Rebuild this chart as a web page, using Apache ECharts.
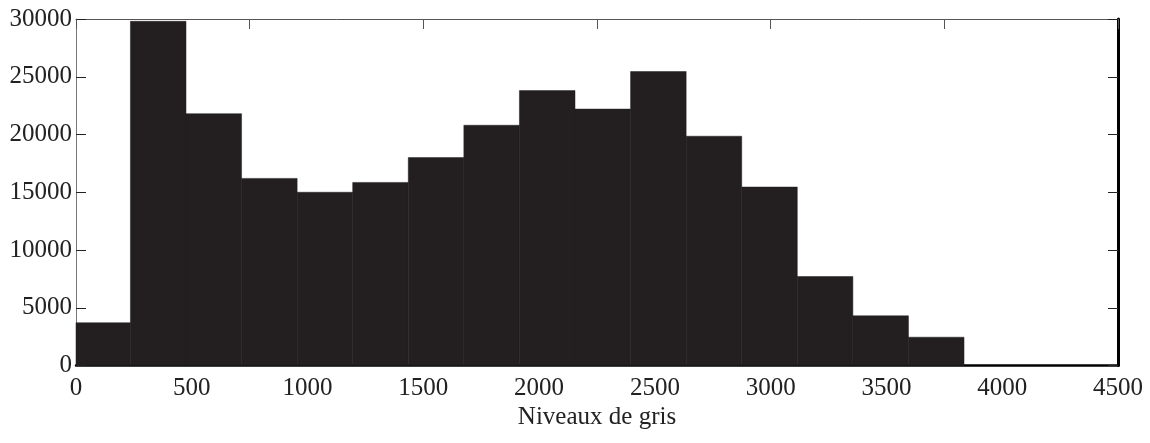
<!DOCTYPE html>
<html>
<head>
<meta charset="utf-8">
<script src="https://cdn.jsdelivr.net/npm/echarts@6/dist/echarts.min.js"></script>
<style>
html,body{margin:0;padding:0;background:#fff;}
#chart{width:1150px;height:443px;}
</style>
</head>
<body>
<div id="chart"></div>
<script>
// Histogram bin edges (grey levels) and counts
const binEdges = [0, 235, 475, 715, 955, 1195, 1435, 1675, 1915, 2155, 2395, 2635, 2875, 3115, 3355, 3595, 3835];
const counts = [3700, 29800, 21800, 16200, 15000, 15850, 18000, 20800, 23800, 22200, 25450, 19850, 15450, 7700, 4300, 2450];
const xTicks = [0, 500, 1000, 1500, 2000, 2500, 3000, 3500, 4000, 4500];
const yTicks = [0, 5000, 10000, 15000, 20000, 25000, 30000];
const xTitle = 'Niveaux de gris';

const data = counts.map((c, i) => [binEdges[i], binEdges[i + 1], c]);
const FONT = '"Liberation Serif", "DejaVu Serif", serif';
const chart = echarts.init(document.getElementById('chart'), null, {renderer: 'canvas'});
chart.setOption({
  animation: false,
  backgroundColor: '#ffffff',
  grid: {left: 76, right: 32, top: 19, bottom: 77.5, containLabel: false},
  xAxis: [{
    type: 'value', position: 'bottom', min: xTicks[0], max: xTicks[xTicks.length - 1], interval: 500,
    axisLine: {show: true, onZero: false, lineStyle: {color: '#000', width: 2.5}},
    axisTick: {show: false},
    splitLine: {show: false},
    axisLabel: {fontFamily: FONT, fontSize: 25, color: '#222', margin: 10, formatter: v => String(v)},
    name: xTitle, nameLocation: 'middle', nameGap: 35,
    nameTextStyle: {fontFamily: FONT, fontSize: 25, color: '#222'}
  }, {
    type: 'value', position: 'top', min: 0, max: 4500, interval: 750,
    axisLine: {show: true, onZero: false, lineStyle: {color: '#555', width: 1}},
    axisTick: {show: true, inside: true, length: 10, lineStyle: {color: '#555', width: 1}},
    axisLabel: {show: false}, splitLine: {show: false}
  }],
  yAxis: [{
    type: 'value', position: 'left', min: yTicks[0], max: yTicks[yTicks.length - 1], interval: 5000,
    axisLine: {show: true, onZero: false, lineStyle: {color: '#777', width: 1}},
    axisTick: {show: true, inside: true, length: 10, lineStyle: {color: '#222', width: 1}},
    splitLine: {show: false},
    axisLabel: {fontFamily: FONT, fontSize: 25, color: '#222', margin: 4, formatter: v => String(v)}
  }, {
    type: 'value', position: 'right', min: 0, max: 30000, interval: 5000,
    axisLine: {show: true, onZero: false, lineStyle: {color: '#000', width: 3}},
    axisTick: {show: true, inside: true, length: 10, lineStyle: {color: '#222', width: 1}},
    axisLabel: {show: false}, splitLine: {show: false}
  }],
  series: [{
    type: 'custom',
    xAxisIndex: 0, yAxisIndex: 0,
    data: data,
    encode: {x: [0, 1], y: 2},
    renderItem: function (params, api) {
      const p0 = api.coord([api.value(0), api.value(2)]);
      const p1 = api.coord([api.value(1), 0]);
      return {
        type: 'rect',
        shape: {x: p0[0], y: p0[1], width: p1[0] - p0[0], height: p1[1] - p0[1]},
        style: {fill: '#231f20', stroke: '#231f20', lineWidth: 0.5}
      };
    }
  }]
});
</script>
</body>
</html>
